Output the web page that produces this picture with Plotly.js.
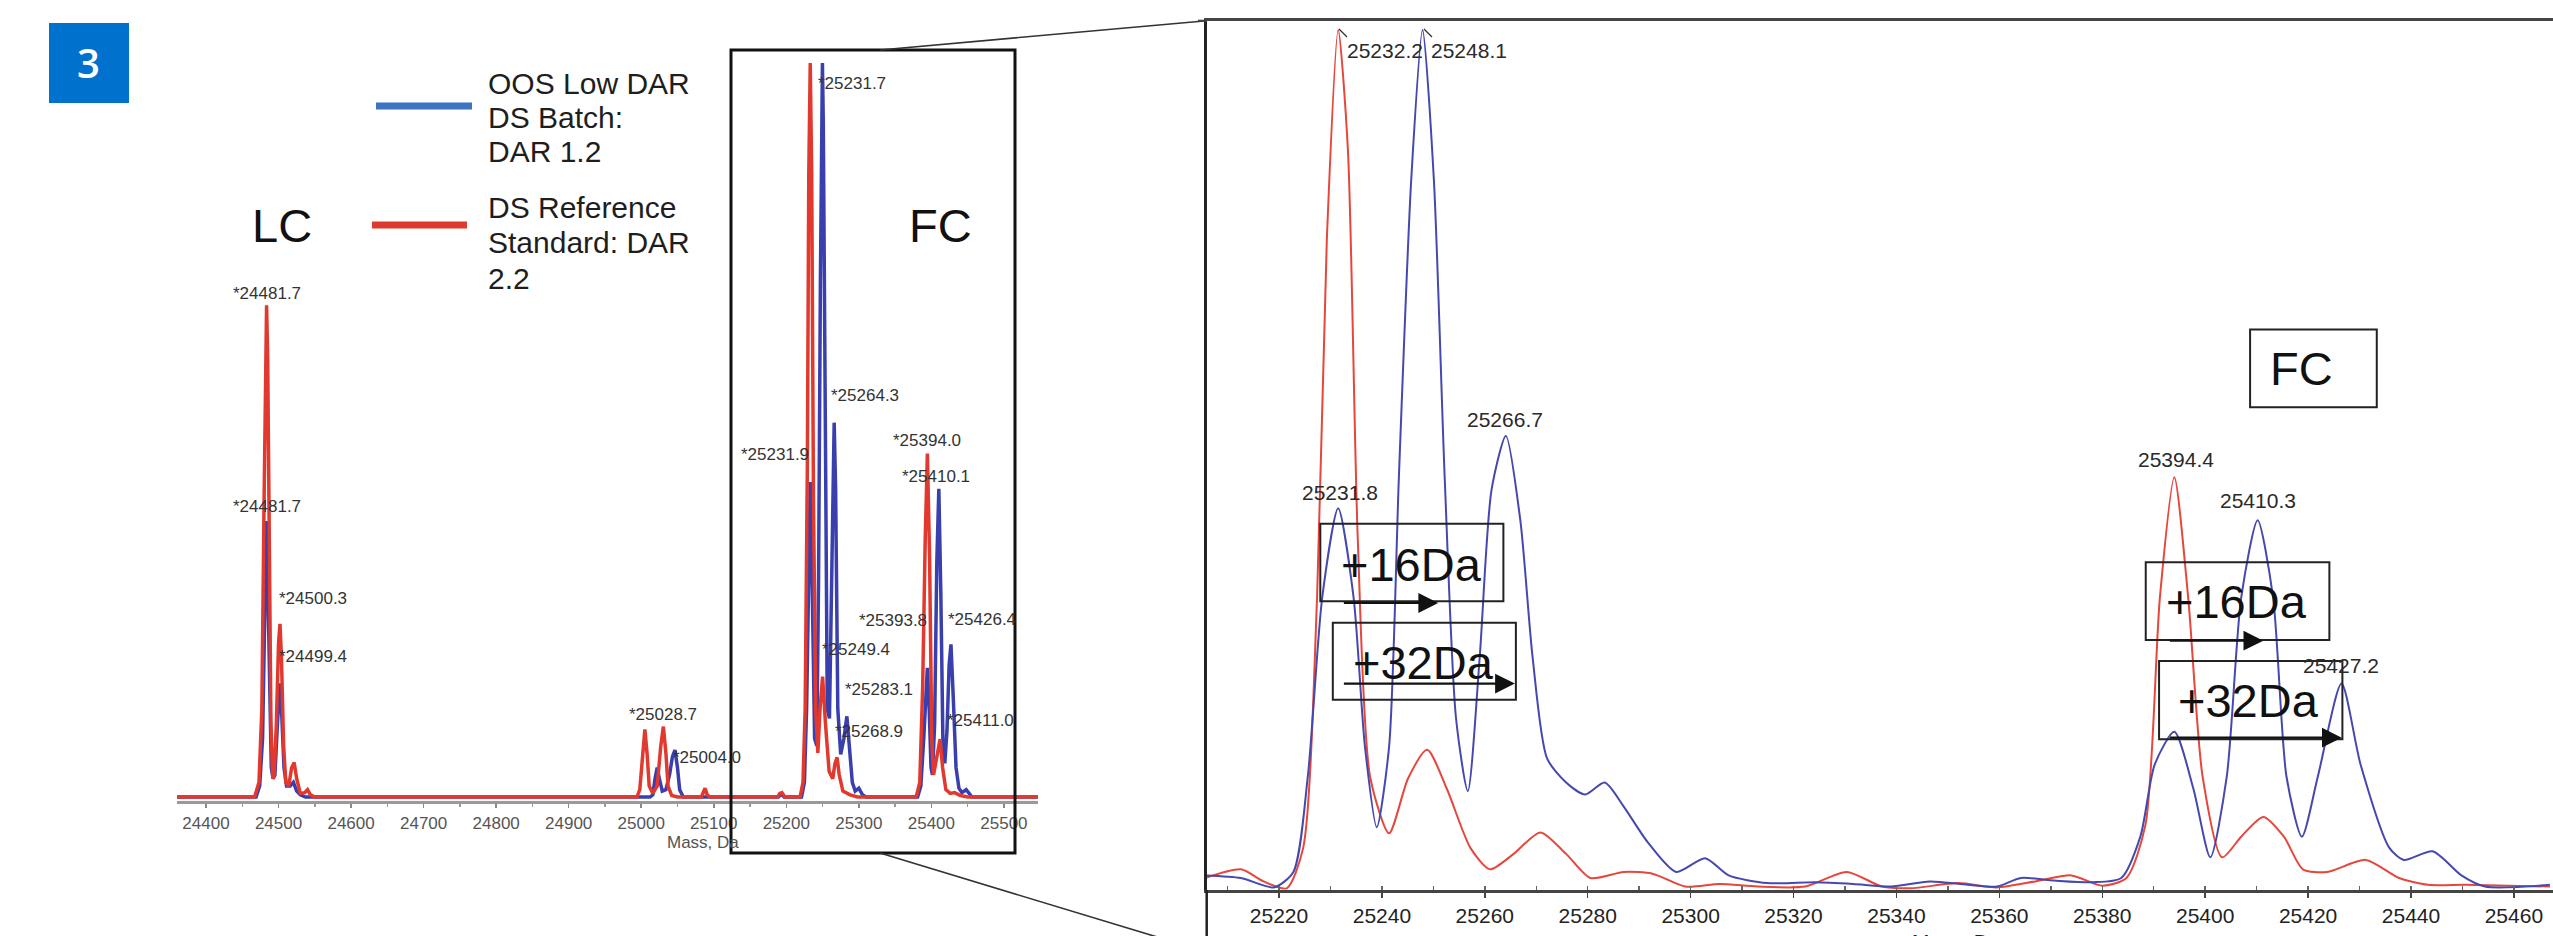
<!DOCTYPE html>
<html>
<head>
<meta charset="utf-8">
<script src="https://cdn.plot.ly/plotly-3.0.1.min.js"></script>
<style>html,body{margin:0;padding:0;background:#fff;}#chart{width:2553px;height:936px;}</style>
</head>
<body>
<div id="chart"></div>
<script>
// ---------- DATA ----------
// Left panel: full deconvoluted spectrum (relative intensity, % of tallest peak)
const lcBlueMass = [24360,24469,24474,24478,24481,24483,24485,24487.5,24490,24492.5,24495,24498,24501.5,24504.5,24507.5,24511,24516,24520.5,24525,24530,24537,
  25012,25016,25019,25022,25025,25029,25034,25039,25043,25046.5,25050,25053,25058,
  25189,25193,25197,
  25221,25225,25228,25231,25233,25235.5,25239,25242,25244.5,25247,25248.8,25249.8,25251,25253.5,25256.5,25259.5,25262.5,25264.5,25266,25268,25271,25275,25279.5,25283.5,25287,25291,25295,25300,25305,25310,
  25381,25385.5,25389.5,25392.5,25394.5,25397,25399.5,25401.5,25404.5,25407.5,25410.3,25413,25416,25418.5,25421.5,25424.5,25427,25430,25434,25438,25442,25448,25452,25456,25547];
const lcBlueInt = [0,0,1.5,8,25,37.6,30,15,4,2.5,3,9,15.5,11,4,1.5,1.5,2,0.8,0.3,0,
  0,0.3,2.5,4,2.5,0.8,1,3,5.5,6.4,4,1,0,
  0,0.4,0,
  0,2,12,35,42.9,30,8,7,30,70,93,100,92,55,12,10.7,30,48,51,42,12,5.8,8,11,7,2,0.8,1.2,0.3,0,
  0,1.5,8,15,17.6,12,4,3,10,32,42,28,7,4.6,9,18,20.8,14,4,1.2,0.6,1,0.4,0,0];
const lcRedMass = [24360,24467,24473,24477,24480,24482,24483.5,24485,24487,24489.5,24492,24494,24497,24500,24502,24504,24507,24510,24514,24518,24521.5,24525,24530,24536,24540,24544,24550,
  24994,24998,25002,25005,25008,25011,25016,25022,25027,25030.5,25034,25037,25042,25050,
  25083,25086,25088,25091,25095,
  25188,25191,25194,25198,
  25219,25223,25226,25229,25231,25233,25235,25237.5,25240.5,25243.5,25246.5,25250,25254,25259,25264,25267,25270,25273,25278,25288,25298,
  25379,25384,25388,25391.5,25394.5,25397.5,25400.5,25403,25407,25412,25415.5,25420,25426,25432,25440,25450,25547];
const lcRedInt = [0,0,2,12,40,62,67,60,35,10,2.5,3,10,21,23.6,19,7,2,1.5,4,4.7,2.5,0.5,0.6,1,0.3,0,
  0,1,6,9.2,6,1.5,0.5,1.5,7,9.6,6,1.5,0.2,0,
  0,0.8,1.2,0.3,0,
  0,0.5,0.6,0,
  0,2,12,45,85,100,85,40,12,6,12,16.4,10,3.5,2.5,4.5,5.4,3,0.8,0.3,0,
  0,2,15,35,46.8,33,8,3,5,7.9,4,1,0.5,0.6,0.2,0,0];
const lcLabelText = ['*24481.7','*24481.7','*24500.3','*24499.4','*25028.7','*25004.0','*25231.7','*25264.3','*25231.9','*25394.0','*25410.1','*25393.8','*25426.4','*25249.4','*25283.1','*25268.9','*25411.0'];
const lcLabelMass = [24483.4,24483.4,24547,24547,25030,25090,25290.2,25308.7,25185,25393.6,25406.6,25346.5,25470.3,25295.8,25327.2,25314.2,25467.5];
const lcLabelInt  = [68.6,39.6,27.0,19.1,11.2,5.4,97.2,54.7,46.6,48.6,43.7,24.0,24.2,20.1,14.6,8.9,10.4];

// Right panel: FC zoom (relative intensity)
const fcBlueMass = [25205.7,25212.6,25219,25222.8,25225.6,25228.4,25231.5,25234.5,25236.7,25239,
  25241.4,25243.3,25245.7,25247.9,25250.1,25252.2,25254.4,25256.7,25259,25261.3,
  25264.1,25266.9,25269.3,25272.1,25275.8,25279.5,25283.3,25287,25291.6,25297.2,
  25302.8,25307.4,25314.9,25324.2,25331.6,25339,25346.5,25353.9,25359.5,25364.2,
  25370.7,25378.1,25383.7,25387.4,25390.2,25394,25397.7,25401,25404.2,25407,
  25410.2,25413.2,25415.8,25418.8,25421.9,25426.5,25430.2,25435.8,25438.6,25444.2,
  25449.8,25454.4,25467];
const fcBlueInt = [1.7,1.4,0.3,2.1,13.2,34,44.4,34,16.7,7.3,
  16.7,48,82.6,100,82.6,48,20,11.5,27,46.5,
  52.8,43,27,15.3,12.5,11.1,12.5,9.7,5.6,2.1,
  3.7,1.7,0.8,0.9,0.7,0.4,1,0.6,0.4,1.4,
  1.1,0.9,1.4,6.2,14.6,18.4,11.8,3.8,13.2,34,
  43,34,13.2,6.2,13.2,24,14.6,4.9,3.5,4.5,
  1.7,0.4,0.6];
const fcRedMass = [25205.7,25212.6,25217,25221.5,25224.7,25227.4,25229.3,25231.5,25233.4,25235.3,
  25237.7,25241.4,25245.1,25248.8,25252.6,25257.2,25261,25265.6,25270.8,25275.8,
  25280.5,25287,25292.6,25299,25305.6,25313,25322.3,25330.3,25337.2,25342.8,
  25352,25359.5,25367,25374,25380,25384.7,25388.4,25391.2,25394,25396.7,
  25399.5,25403.3,25407,25411.3,25415.3,25419,25423.7,25431.2,25437.7,25443.3,
  25450.7,25467];
const fcRedInt = [1.4,2.4,1,0.2,4.9,34,75.7,100,86,41,
  13.2,6.6,13,16.3,11.8,4.9,2.4,4.2,6.7,4.2,
  1.4,2.1,1.9,0.4,0.7,0.4,0.4,2.1,0.4,0.2,
  0.8,0.3,1,1.7,0.5,1.4,7.6,34,48,34,
  13.2,3.8,6.2,8.5,6.2,2.4,2.1,3.5,1.4,0.6,
  0.6,0.4];
const fcLabelText = ['25232.2','25248.1','25231.8','25266.7','25394.4','25410.3','25427.2'];
const fcLabelMass = [25232.87,25249.1,25231.76,25264.0,25394.4,25410.2,25426.4];
const fcLabelInt  = [97.6,97.6,46.2,54.7,50.0,45.3,26.1];

const legendBlueLines = ['OOS Low DAR','DS Batch:','DAR 1.2'];
const legendRedLines  = ['DS Reference','Standard: DAR','2.2'];

// ---------- LAYOUT HELPERS ----------
const W = 2553, H = 936;
const px = X => X / W;
const py = Y => 1 - Y / H;
const BLUE_L = '#3a3fae', RED_L = '#e2392e';
const BLUE_R = '#4549ad', RED_R = '#e5473d';
const ARIAL = 'Liberation Sans, Arial, sans-serif';
const NARROW = 'Liberation Sans Narrow, Arial Narrow, Liberation Sans, sans-serif';

const traces = [
  {x: lcBlueMass, y: lcBlueInt, xaxis:'x', yaxis:'y', mode:'lines', line:{color:BLUE_L, width:3.5}, hoverinfo:'skip'},
  {x: lcRedMass,  y: lcRedInt,  xaxis:'x', yaxis:'y', mode:'lines', line:{color:RED_L, width:3.5}, hoverinfo:'skip'},
  {x: fcRedMass,  y: fcRedInt,  xaxis:'x2', yaxis:'y2', mode:'lines', line:{color:RED_R, width:2, shape:'spline', smoothing:0.7}, hoverinfo:'skip'},
  {x: fcBlueMass, y: fcBlueInt, xaxis:'x2', yaxis:'y2', mode:'lines', line:{color:BLUE_R, width:2, shape:'spline', smoothing:0.7}, hoverinfo:'skip'}
];

const annotations = [];
const shapes = [];
// paper-positioned text helper (explicit anchors, so Plotly's 'auto' anchoring does not shift it)
function paperText(X, Y, text, font, xanchor, yanchor){
  annotations.push({xref:'paper', yref:'paper', x:px(X), y:py(Y), text:text, showarrow:false,
    xanchor:xanchor||'center', yanchor:yanchor||'middle', font:font});
}

// Figure number badge
shapes.push({type:'rect', xref:'paper', yref:'paper', x0:px(49), x1:px(129), y0:py(103), y1:py(23), fillcolor:'#0072ce', line:{width:0}});
paperText(89, 63, '3', {family:'Open Sans, Lato, sans-serif', size:40, color:'#ffffff', weight:600});

// Legend (drawn manually)
shapes.push({type:'line', xref:'paper', yref:'paper', x0:px(376), x1:px(472), y0:py(106), y1:py(106), line:{color:'#3c73c2', width:7}});
shapes.push({type:'line', xref:'paper', yref:'paper', x0:px(372), x1:px(467), y0:py(225), y1:py(225), line:{color:'#de3a2f', width:7}});
const legY1 = [83, 117, 152], legY2 = [207, 243, 278];
legendBlueLines.forEach((t,i)=>paperText(486, legY1[i], t, {family:ARIAL, size:30, color:'#1e1e1e'}, 'left'));
legendRedLines.forEach((t,i)=>paperText(486, legY2[i], t, {family:ARIAL, size:30, color:'#1e1e1e'}, 'left'));

// LC / FC big labels in left panel
paperText(282, 225, 'LC', {family:ARIAL, size:47, color:'#111'});
paperText(940, 225, 'FC', {family:ARIAL, size:47, color:'#111'});

// Left x-axis title
paperText(703, 842, 'Mass, Da', {family:ARIAL, size:17, color:'#555'});
// Right x-axis title (cut by the figure edge)
paperText(1956, 928, 'Mass, Da', {family:NARROW, size:21, color:'#222'}, 'center', 'top');

// Left peak labels
lcLabelText.forEach((t,i)=>annotations.push({xref:'x', yref:'y', x:lcLabelMass[i], y:lcLabelInt[i], text:t, showarrow:false, xanchor:'center', yanchor:'middle', font:{family:ARIAL, size:17, color:'#333'}}));

// Right peak labels
fcLabelText.forEach((t,i)=>annotations.push({xref:'x2', yref:'y2', x:fcLabelMass[i], y:fcLabelInt[i], text:t, showarrow:false, xanchor: i<2 ? 'left':'center', yanchor:'middle', font:{family:NARROW, size:21, color:'#2a2a2a'}}));
// small leader hooks at the two tallest peaks
shapes.push({type:'line', xref:'paper', yref:'paper', x0:px(1339), y0:py(29), x1:px(1347), y1:py(37), line:{color:'#333', width:1.2}});
shapes.push({type:'line', xref:'paper', yref:'paper', x0:px(1424), y0:py(29), x1:px(1432), y1:py(37), line:{color:'#333', width:1.2}});

// Zoom frame on left plot and connector lines
shapes.push({type:'rect', xref:'paper', yref:'paper', x0:px(731), x1:px(1015), y0:py(853), y1:py(50), line:{color:'#111', width:3}});
shapes.push({type:'line', xref:'paper', yref:'paper', x0:px(880), y0:py(50), x1:px(1206.7), y1:py(20.7), line:{color:'#333', width:1.6}});
shapes.push({type:'line', xref:'paper', yref:'paper', x0:px(880), y0:py(853), x1:px(1206.7), y1:py(952), line:{color:'#333', width:1.6}});
// right plot left axis continues below x axis
shapes.push({type:'line', xref:'paper', yref:'paper', x0:px(1206.7), y0:py(890), x1:px(1206.7), y1:py(940), line:{color:'#222', width:2.5}});
shapes.push({type:'line', xref:'paper', yref:'paper', x0:px(1198), y0:py(20.7), x1:px(1206.7), y1:py(20.7), line:{color:'#444', width:2}});

// Right panel boxes and arrows
const boxes = [
  {x0:25408.73, x1:25433.35, y0:56.14, y1:65.16, text:'FC', tx:25418.77, ty:60.66},
  {x0:25228.03, x1:25263.61, y0:33.58, y1:42.6, text:'+16Da', tx:25245.73, ty:37.88},
  {x0:25230.46, x1:25266.04, y0:22.13, y1:31.08, text:'+32Da', tx:25248.16, ty:26.43},
  {x0:25388.45, x1:25424.14, y0:29.07, y1:38.1, text:'+16Da', tx:25406.0, ty:33.52},
  {x0:25391.04, x1:25426.67, y0:17.52, y1:26.63, text:'+32Da', tx:25408.5, ty:22.09}
];
boxes.forEach(b=>{
  shapes.push({type:'rect', xref:'x2', yref:'y2', x0:b.x0, x1:b.x1, y0:b.y0, y1:b.y1, line:{color:'#222', width:2}});
  annotations.push({xref:'x2', yref:'y2', x:b.tx, y:b.ty, text:b.text, showarrow:false, xanchor:'center', yanchor:'middle', font:{family:ARIAL, size:47, color:'#111'}});
});
const arrows = [
  {from:25232.32, to:25250.94, y:33.37},
  {from:25232.32, to:25265.85, y:24.0},
  {from:25392.85, to:25411.3, y:28.99},
  {from:25392.85, to:25426.55, y:17.71}
];
arrows.forEach(a=>annotations.push({xref:'x2', yref:'y2', axref:'x2', ayref:'y2', x:a.to, y:a.y, ax:a.from, ay:a.y, text:'', showarrow:true, arrowhead:2, arrowsize:1.8, arrowwidth:2.2, arrowcolor:'#111'}));

const layout = {
  width: W, height: H,
  margin: {l:0, r:0, t:0, b:0, pad:0},
  paper_bgcolor: '#ffffff', plot_bgcolor: 'rgba(0,0,0,0)',
  showlegend: false,
  separators: '.',
  xaxis: {domain:[177/W, 1038/W], range:[24360, 25547], anchor:'y', showgrid:false, zeroline:false,
    showline:true, linecolor:'#9a9a9a', linewidth:3, ticks:'outside', ticklen:4, tickwidth:1.5, tickcolor:'#888',
    tickmode:'linear', tick0:24400, dtick:100, tickformat:'d', exponentformat:'none', ticklabelstandoff:1,
    tickfont:{family:ARIAL, size:17, color:'#555'},
    minor:{dtick:50, tick0:24400, ticks:'outside', ticklen:3, tickcolor:'#999'}},
  yaxis: {domain:[1-800.7/H, 1-33.6/H], range:[-0.5, 104], anchor:'x', visible:false, showgrid:false, zeroline:false},
  xaxis2: {domain:[1206.7/W, 1], range:[25205.95, 25467.6], anchor:'y2', showgrid:false, zeroline:false,
    showline:true, mirror:true, linecolor:'#444', linewidth:2.5, ticks:'outside', ticklen:5, tickwidth:1.5, tickcolor:'#444',
    tickmode:'linear', tick0:25220, dtick:20, tickformat:'d', exponentformat:'none',
    tickfont:{family:NARROW, size:21, color:'#222'},
    minor:{dtick:10, tick0:25210, ticks:'inside', ticklen:4, tickcolor:'#666'}},
  yaxis2: {domain:[1-890/H, 1-20.7/H], range:[0, 101.08], anchor:'x2', showgrid:false, zeroline:false,
    showline:true, linecolor:'#222', linewidth:2.5, ticks:'', showticklabels:false},
  shapes: shapes,
  annotations: annotations
};

Plotly.newPlot('chart', traces, layout, {staticPlot:true, displayModeBar:false});
</script>
</body>
</html>
